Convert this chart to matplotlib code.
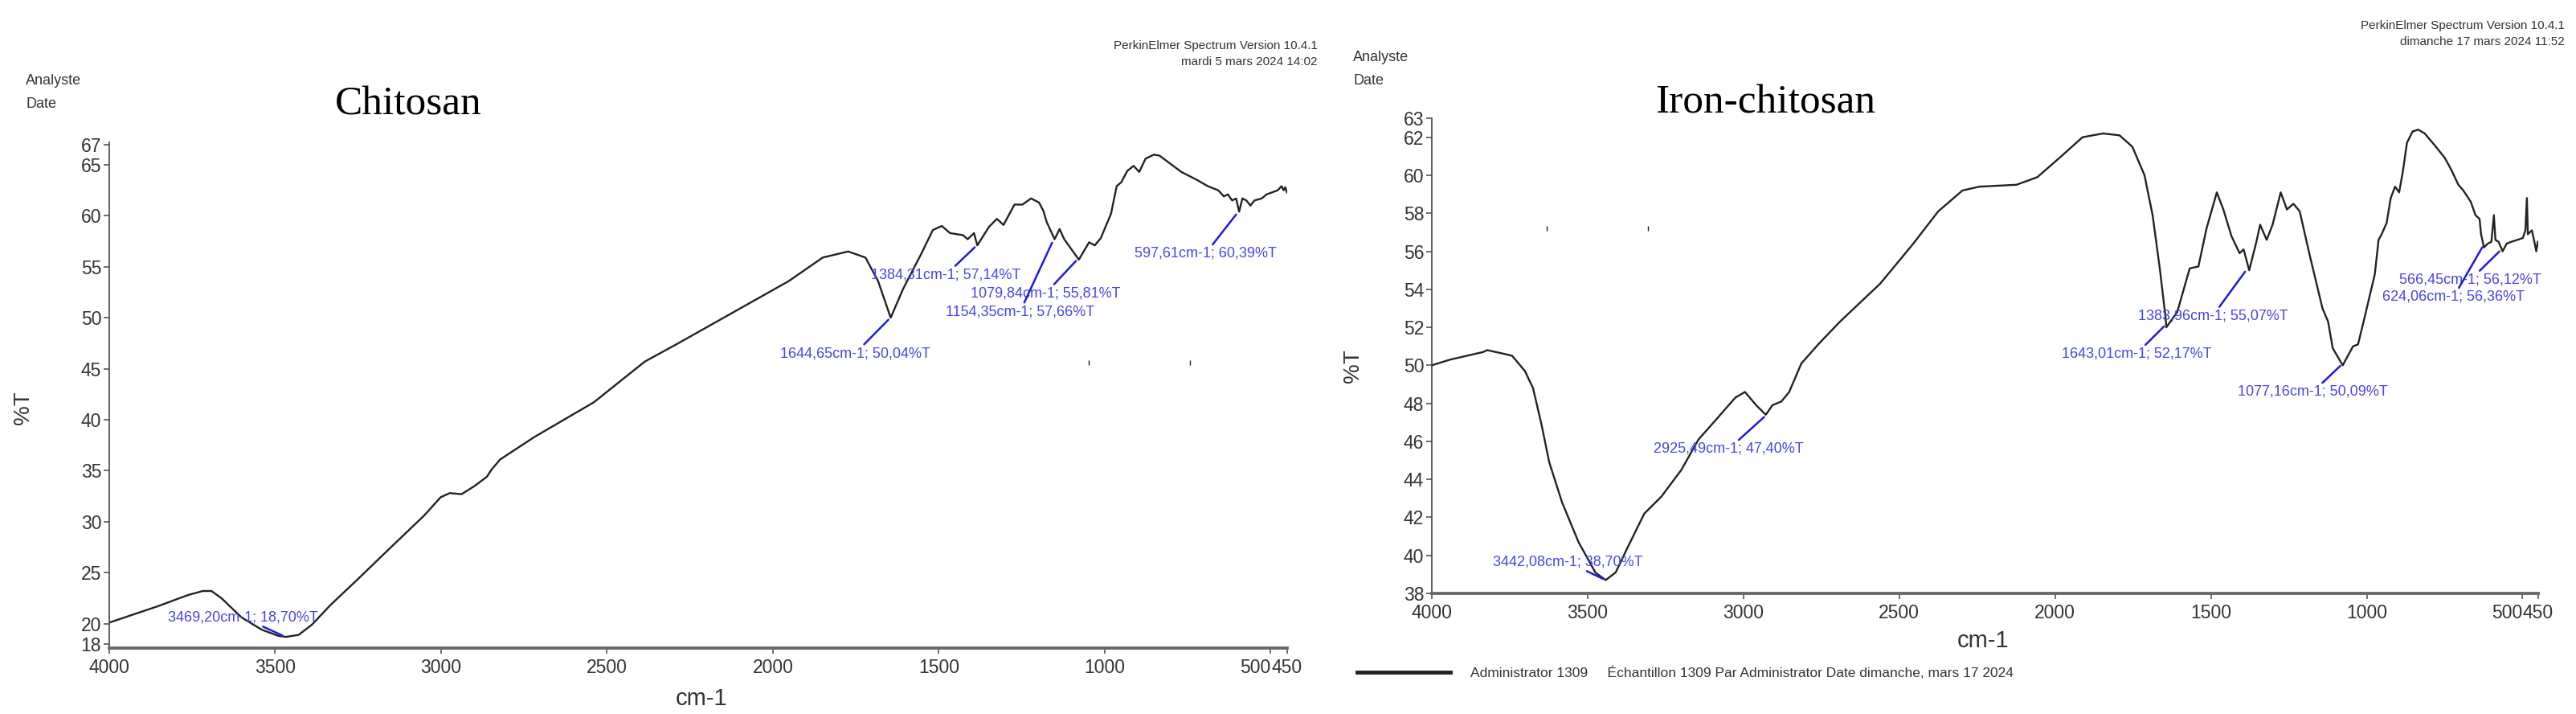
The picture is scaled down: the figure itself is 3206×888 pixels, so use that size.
import matplotlib
matplotlib.use("Agg")
import matplotlib.pyplot as plt
from matplotlib.lines import Line2D

plt.rcParams["font.family"] = ["Liberation Sans", "DejaVu Sans"]

# chitosan spectrum (cm-1, %T)
chitosan_wn = [4000, 3854, 3763, 3718, 3692, 3662, 3601, 3540, 3490, 3467, 3429, 3389,
               3334, 3256, 3154, 3051, 3001, 2974, 2938, 2899, 2862, 2848, 2822, 2719,
               2619, 2540, 2386, 2285, 2143, 1952, 1850, 1773, 1721, 1683, 1645, 1608,
               1554, 1518, 1491, 1466, 1427, 1413, 1394, 1384, 1349, 1325, 1305, 1272,
               1248, 1222, 1198, 1185, 1175, 1151, 1136, 1122, 1078, 1047, 1030, 1012,
               981, 964, 950, 932, 913, 896, 877, 852, 835, 769, 721, 689, 658, 641,
               629, 616, 604, 595, 585, 573, 561, 549, 527, 512, 495, 479, 467, 461,
               456, 451]
chitosan_t = [20.1, 21.7, 22.8, 23.2, 23.2, 22.5, 20.6, 19.4, 18.8, 18.7, 18.9, 19.9,
              21.8, 24.2, 27.4, 30.6, 32.4, 32.8, 32.7, 33.5, 34.4, 35.1, 36.1, 38.3,
              40.2, 41.7, 45.7, 47.5, 50.1, 53.6, 55.9, 56.5, 55.9, 53.6, 50.0, 52.8,
              56.2, 58.6, 59.0, 58.3, 58.1, 57.7, 58.3, 57.1, 58.9, 59.7, 59.1, 61.1,
              61.1, 61.7, 61.3, 60.5, 59.4, 57.7, 58.7, 57.7, 55.7, 57.4, 57.1, 57.8,
              60.2, 62.9, 63.3, 64.4, 64.9, 64.3, 65.6, 66.0, 65.9, 64.3, 63.5, 62.9,
              62.5, 61.9, 62.1, 61.5, 61.7, 60.4, 61.7, 61.5, 61.0, 61.5, 61.7, 62.1,
              62.3, 62.5, 62.9, 62.5, 62.8, 62.3]

# iron-chitosan spectrum
iron_wn = [4000, 3941, 3835, 3822, 3767, 3742, 3701, 3675, 3648, 3623, 3582, 3529,
           3475, 3442, 3410, 3369, 3318, 3263, 3199, 3144, 3090, 3026, 2995, 2959,
           2928, 2907, 2878, 2853, 2814, 2760, 2690, 2561, 2455, 2375, 2297, 2243,
           2124, 2057, 1980, 1912, 1846, 1793, 1752, 1713, 1687, 1664, 1646, 1643,
           1608, 1568, 1540, 1514, 1481, 1460, 1434, 1408, 1395, 1377, 1354, 1342,
           1321, 1302, 1276, 1256, 1235, 1215, 1183, 1142, 1124, 1109, 1077, 1044,
           1028, 1010, 974, 962, 952, 936, 923, 909, 896, 884, 871, 853, 835, 814,
           783, 749, 729, 706, 690, 666, 651, 638, 633, 624, 612, 600, 592, 587,
           577, 564, 551, 536, 517, 499, 491, 486, 483, 470, 462, 456, 451]
iron_t = [50.0, 50.3, 50.7, 50.8, 50.6, 50.5, 49.7, 48.8, 46.9, 44.9, 42.8, 40.7,
          39.1, 38.7, 39.1, 40.5, 42.2, 43.1, 44.5, 46.1, 47.1, 48.3, 48.6, 47.9,
          47.4, 47.9, 48.1, 48.6, 50.1, 51.1, 52.3, 54.3, 56.4, 58.1, 59.2, 59.4,
          59.5, 59.9, 61.0, 62.0, 62.2, 62.1, 61.5, 60.0, 57.9, 55.1, 52.6, 52.0,
          52.8, 55.1, 55.2, 57.2, 59.1, 58.2, 56.8, 55.9, 56.1, 55.0, 56.5, 57.4,
          56.6, 57.4, 59.1, 58.2, 58.5, 58.1, 55.8, 53.0, 52.3, 50.9, 50.0, 51.0,
          51.1, 52.3, 54.8, 56.6, 56.9, 57.5, 58.8, 59.4, 59.1, 60.2, 61.7, 62.3,
          62.4, 62.2, 61.6, 60.9, 60.3, 59.5, 59.2, 58.6, 57.9, 57.7, 56.9, 56.2,
          56.4, 56.5, 57.9, 56.6, 56.5, 56.0, 56.4, 56.5, 56.6, 56.7, 57.1, 58.8,
          56.9, 57.1, 56.5, 56.0, 56.5]

# peak labels
chit_peak_wn = [3469.20, 1644.65, 1384.31, 1079.84, 1154.35, 597.61]
chit_peak_t = [18.70, 50.04, 57.14, 55.81, 57.66, 60.39]
chit_labels = ["3469,20cm-1; 18,70%T", "1644,65cm-1; 50,04%T", "1384,31cm-1; 57,14%T",
               "1079,84cm-1; 55,81%T", "1154,35cm-1; 57,66%T", "597,61cm-1; 60,39%T"]
chit_text_pos = [(3596, 20.6), (1752, 46.5), (1479, 54.2), (1178, 52.4), (1255, 50.6), (696, 56.3)]

iron_peak_wn = [3442.08, 2925.49, 1643.01, 1383.96, 1077.16, 566.45, 624.06]
iron_peak_t = [38.70, 47.40, 52.17, 55.07, 50.09, 56.12, 56.36]
iron_labels = ["3442,08cm-1; 38,70%T", "2925,49cm-1; 47,40%T", "1643,01cm-1; 52,17%T",
               "1383,96cm-1; 55,07%T", "1077,16cm-1; 50,09%T", "566,45cm-1; 56,12%T",
               "624,06cm-1; 56,36%T"]
iron_text_pos = [(3563, 39.65), (3047, 45.6), (1739, 50.6), (1494, 52.6), (1173, 48.6),
                 (667, 54.5), (721, 53.6)]

# stray dots in the scans
chit_dot_wn = [1049, 742]
chit_dot_t = [45.6, 45.6]
iron_dot_wn = [3630, 3305]
iron_dot_t = [57.2, 57.2]

xticks = [4000, 3500, 3000, 2500, 2000, 1500, 1000, 500, 450]
xtick_labels = ["4000", "3500", "3000", "2500", "2000", "1500", "1000", "500", "450"]
chit_yticks = [18, 20, 25, 30, 35, 40, 45, 50, 55, 60, 65, 67]
iron_yticks = [38, 40, 42, 44, 46, 48, 50, 52, 54, 56, 58, 60, 62, 63]

fig = plt.figure(figsize=(32.06, 8.88), dpi=100)
ax1 = fig.add_axes([0.0424, 0.0923, 0.4573, 0.7083])
ax2 = fig.add_axes([0.5558, 0.1689, 0.4295, 0.6655])

blue_txt = "#4646e6"
blue_line = "#1c1cdc"
gray = "#333333"


def style_axes(ax, yticks, ylim):
    ax.set_xlim(4000, 450)
    ax.set_ylim(*ylim)
    ax.spines["top"].set_visible(False)
    ax.spines["right"].set_visible(False)
    ax.spines["left"].set_color("#444444")
    ax.spines["left"].set_linewidth(1.2)
    ax.spines["bottom"].set_color("#6a6a6a")
    ax.spines["bottom"].set_linewidth(2.8)
    ax.set_xticks(xticks)
    ax.set_xticklabels(xtick_labels)
    ax.set_yticks(yticks)
    ax.set_yticklabels([str(v) for v in yticks])
    ax.tick_params(axis="both", labelsize=16.5, colors="#555555", labelcolor=gray,
                   length=5, width=1.2, direction="out")
    ax.tick_params(axis="x", pad=4)
    ax.tick_params(axis="y", pad=2)
    labs = ax.get_xticklabels()
    labs[-2].set_ha("right")
    labs[-1].set_ha("center")
    ax.set_xlabel("cm-1", fontsize=21, color=gray)
    ax.set_ylabel("%T", fontsize=20, color=gray)


ax1.plot(chitosan_wn, chitosan_t, color="#222222", linewidth=1.7)
ax1.plot(chit_dot_wn, chit_dot_t, linestyle="none", marker="|", markersize=4, color="#222222")
style_axes(ax1, chit_yticks, (17.6, 67.2))
ax1.xaxis.set_label_coords(0.503, -0.078)
ax1.yaxis.set_label_coords(-0.064, 0.475)

for lab, pw, pt, pos in zip(chit_labels, chit_peak_wn, chit_peak_t, chit_text_pos):
    ax1.annotate(lab, xy=(pw, pt), xytext=pos, ha="center", va="center",
                 fontsize=13, color=blue_txt,
                 arrowprops=dict(arrowstyle="-", color=blue_line, linewidth=1.8,
                                 shrinkA=0, shrinkB=3))

ax2.plot(iron_wn, iron_t, color="#222222", linewidth=1.7)
ax2.plot(iron_dot_wn, iron_dot_t, linestyle="none", marker="|", markersize=4, color="#222222")
style_axes(ax2, iron_yticks, (38, 63))
ax2.xaxis.set_label_coords(0.498, -0.076)
ax2.yaxis.set_label_coords(-0.062, 0.479)

for lab, pw, pt, pos in zip(iron_labels, iron_peak_wn, iron_peak_t, iron_text_pos):
    ax2.annotate(lab, xy=(pw, pt), xytext=pos, ha="center", va="center",
                 fontsize=13, color=blue_txt,
                 arrowprops=dict(arrowstyle="-", color=blue_line, linewidth=1.8,
                                 shrinkA=0, shrinkB=3))

# titles / instrument headers
fig.text(0.1585, 0.8536, "Chitosan", family=["Liberation Serif", "DejaVu Serif"],
         fontsize=37, ha="center", va="center")
fig.text(0.6853, 0.8559, "Iron-chitosan", family=["Liberation Serif", "DejaVu Serif"],
         fontsize=37, ha="center", va="center")
fig.text(0.0100, 0.887, "Analyste", fontsize=13, color=gray, va="center")
fig.text(0.0100, 0.854, "Date", fontsize=13, color=gray, va="center")
fig.text(0.5253, 0.919, "Analyste", fontsize=13, color=gray, va="center")
fig.text(0.5253, 0.887, "Date", fontsize=13, color=gray, va="center")
fig.text(0.5115, 0.936, "PerkinElmer Spectrum Version 10.4.1", fontsize=11, color=gray,
         ha="right", va="center")
fig.text(0.5115, 0.913, "mardi 5 mars 2024 14:02", fontsize=11, color=gray,
         ha="right", va="center")
fig.text(0.9956, 0.964, "PerkinElmer Spectrum Version 10.4.1", fontsize=11, color=gray,
         ha="right", va="center")
fig.text(0.9956, 0.941, "dimanche 17 mars 2024 11:52", fontsize=11, color=gray,
         ha="right", va="center")

handle = Line2D([], [], color="#222222", linewidth=3.5)
fig.legend([handle],
           ["Administrator 1309     Échantillon 1309 Par Administrator Date dimanche, mars 17 2024"],
           loc="center left", bbox_to_anchor=(0.522, 0.0574), frameon=False,
           fontsize=12.5, handlelength=6.7, handletextpad=1.4, labelcolor=gray)

fig.savefig("out.png", dpi=100)
